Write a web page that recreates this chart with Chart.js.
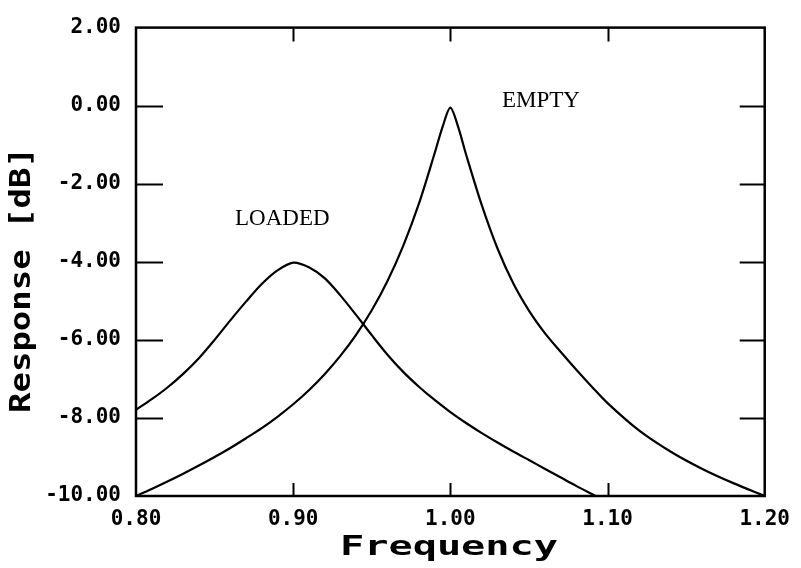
<!DOCTYPE html>
<html>
<head>
<meta charset="utf-8">
<script src="https://cdn.jsdelivr.net/npm/chart.js@4"></script>
<style>
  html, body { margin: 0; padding: 0; background: #fff; }
  #wrap { width: 801px; height: 568px; }
</style>
</head>
<body>
<div id="wrap"><canvas id="chart" width="801" height="568"></canvas></div>
<script>
// values
const freqEmpty = [0.80, 0.81, 0.82, 0.83, 0.84, 0.85, 0.86, 0.87, 0.88, 0.89, 0.90, 0.91, 0.92, 0.93, 0.94, 0.95, 0.96, 0.97, 0.98, 0.99, 0.995, 1.00, 1.005, 1.01, 1.02, 1.03, 1.04, 1.05, 1.06, 1.07, 1.08, 1.09, 1.10, 1.12, 1.14, 1.16, 1.18, 1.20];
const respEmpty = [-10.0, -9.82, -9.63, -9.43, -9.22, -9.00, -8.77, -8.52, -8.26, -7.97, -7.65, -7.29, -6.88, -6.41, -5.87, -5.24, -4.49, -3.59, -2.51, -1.22, -0.55, -0.05, -0.55, -1.25, -2.55, -3.66, -4.55, -5.25, -5.82, -6.30, -6.76, -7.20, -7.62, -8.32, -8.86, -9.30, -9.67, -10.0];

const freqLoaded = [0.80, 0.81, 0.82, 0.83, 0.84, 0.85, 0.86, 0.87, 0.88, 0.89, 0.90, 0.91, 0.92, 0.93, 0.94, 0.95, 0.96, 0.97, 0.98, 0.99, 1.00, 1.01, 1.02, 1.03, 1.04, 1.05, 1.06, 1.07, 1.08, 1.09, 1.10];
const respLoaded = [-7.79, -7.52, -7.22, -6.87, -6.47, -6.00, -5.50, -5.02, -4.57, -4.22, -4.02, -4.14, -4.42, -4.86, -5.36, -5.88, -6.38, -6.82, -7.20, -7.54, -7.85, -8.13, -8.39, -8.63, -8.86, -9.08, -9.30, -9.52, -9.74, -9.95, -10.16];

const xTicks = [0.80, 0.90, 1.00, 1.10, 1.20];
const yTicks = [2, 0, -2, -4, -6, -8, -10];

function toPoints(xs, ys) { return xs.map((x, i) => ({ x: x, y: ys[i] })); }

// stretched text, the plotter font is much wider than anything installed
function wideText(ctx, text, x, y, targetW, font, rot) {
  ctx.save();
  ctx.font = font;
  const w = ctx.measureText(text).width;
  ctx.translate(x, y);
  if (rot) ctx.rotate(rot);
  ctx.scale(targetW / w, 1);
  ctx.textAlign = 'center';
  ctx.textBaseline = 'alphabetic';
  ctx.fillStyle = '#000';
  ctx.fillText(text, 0, 0);
  ctx.restore();
}

const framePlugin = {
  id: 'frame',
  beforeDraw(chart) {
    const ctx = chart.ctx;
    ctx.save();
    ctx.fillStyle = '#fff';
    ctx.fillRect(0, 0, chart.width, chart.height);
    ctx.restore();
  },
  afterDraw(chart) {
    const { ctx, chartArea: { left, right, top, bottom }, scales: { x, y } } = chart;
    ctx.save();
    ctx.strokeStyle = '#000';
    ctx.lineWidth = 2.5;
    ctx.strokeRect(left, top, right - left, bottom - top);

    // inward ticks on all four sides
    ctx.lineWidth = 2;
    ctx.beginPath();
    yTicks.forEach(v => {
      const py = Math.round(y.getPixelForValue(v)) + 0.5;
      if (py <= top + 2 || py >= bottom - 2) return;
      ctx.moveTo(left, py); ctx.lineTo(left + 27, py);
      ctx.moveTo(right - 25, py); ctx.lineTo(right, py);
    });
    xTicks.forEach(v => {
      const px = Math.round(x.getPixelForValue(v)) + 0.5;
      if (px <= left + 2 || px >= right - 2) return;
      ctx.moveTo(px, top); ctx.lineTo(px, top + 14);
      ctx.moveTo(px, bottom - 13); ctx.lineTo(px, bottom);
    });
    ctx.stroke();

    // curve labels
    ctx.fillStyle = '#000';
    ctx.font = '23px "Liberation Serif"';
    ctx.textAlign = 'left';
    ctx.textBaseline = 'alphabetic';
    ctx.fillText('EMPTY', 502, 107);
    ctx.fillText('LOADED', 235, 225);

    // axis titles
    wideText(ctx, 'Frequency', 449, 555, 218, 'bold 26px "DejaVu Sans Mono"', 0);
    wideText(ctx, 'Response [dB]', 30, 280, 266, 'bold 28px "DejaVu Sans Mono"', -Math.PI / 2);
    ctx.restore();
  }
};

new Chart(document.getElementById('chart'), {
  type: 'scatter',
  data: {
    datasets: [
      {
        label: 'EMPTY',
        data: toPoints(freqEmpty, respEmpty),
        showLine: true,
        borderColor: '#000',
        borderWidth: 2.2,
        pointRadius: 0,
        tension: 0.3
      },
      {
        label: 'LOADED',
        data: toPoints(freqLoaded, respLoaded),
        showLine: true,
        borderColor: '#000',
        borderWidth: 2.2,
        pointRadius: 0,
        tension: 0.3
      }
    ]
  },
  options: {
    responsive: false,
    animation: false,
    devicePixelRatio: 1,
    layout: { padding: { top: 17, right: 28, bottom: 0, left: 0 } },
    plugins: {
      legend: { display: false },
      tooltip: { enabled: false }
    },
    scales: {
      x: {
        type: 'linear',
        min: 0.8,
        max: 1.2,
        afterBuildTicks: scale => { scale.ticks = xTicks.map(v => ({ value: v })); },
        afterFit: scale => { scale.height = 72; },
        grid: { display: false, drawTicks: false },
        border: { display: false },
        ticks: {
          color: '#000',
          font: { family: 'DejaVu Sans Mono', weight: 'bold', size: 21 },
          padding: 11,
          maxRotation: 0,
          autoSkip: false,
          callback: v => v.toFixed(2)
        }
      },
      y: {
        type: 'linear',
        min: -10,
        max: 2,
        afterBuildTicks: scale => { scale.ticks = yTicks.map(v => ({ value: v })); },
        afterFit: scale => { scale.width = 136; },
        grid: { display: false, drawTicks: false },
        border: { display: false },
        ticks: {
          color: '#000',
          font: { family: 'DejaVu Sans Mono', weight: 'bold', size: 21 },
          padding: 15,
          autoSkip: false,
          callback: v => v.toFixed(2)
        }
      }
    }
  },
  plugins: [framePlugin]
});
</script>
</body>
</html>
